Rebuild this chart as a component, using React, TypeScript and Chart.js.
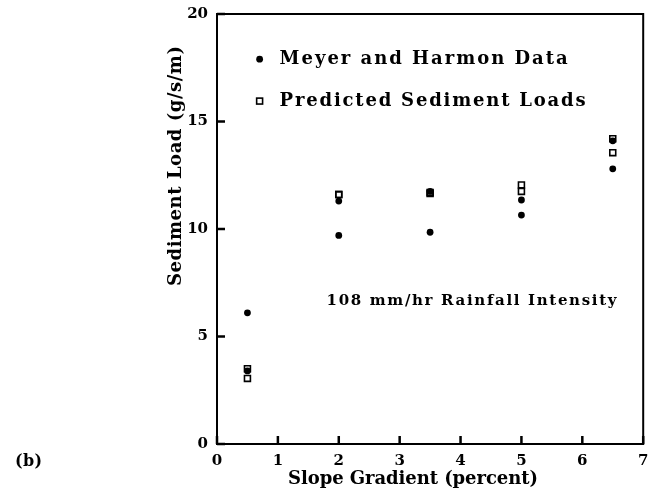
import React, { useEffect, useRef } from "react";
import { Chart, registerables } from "chart.js";

Chart.register(...registerables);

const slopes = [0.5, 2, 3.5, 5, 6.5];
const meyerHigh = [6.1, 11.3, 11.75, 11.35, 14.1];
const meyerLow = [3.4, 9.7, 9.85, 10.65, 12.8];
const predictedHigh = [3.5, 11.6, 11.65, 12.05, 14.2];
const predictedLow = [3.05, 11.6, 11.7, 11.75, 13.55];

const xTicks = [0, 1, 2, 3, 4, 5, 6, 7];
const yTicks = [0, 5, 10, 15, 20];

const legendLabels = ["Meyer and Harmon Data", "Predicted Sediment Loads"];
const xTitle = "Slope Gradient (percent)";
const yTitle = "Sediment Load (g/s/m)";
const annotation = "108 mm/hr Rainfall Intensity";
const panelLabel = "(b)";

const FONT = "'DejaVu Serif', 'Liberation Serif', serif";

function pts(xs: number[], ys: number[]) {
  return xs.map((x, i) => ({ x, y: ys[i] }));
}

function fitText(ctx: CanvasRenderingContext2D, text: string, width: number) {
  (ctx as any).letterSpacing = "0px";
  const w = ctx.measureText(text).width;
  const n = Math.max(text.length - 1, 1);
  (ctx as any).letterSpacing = ((width - w) / n).toFixed(2) + "px";
}

const tickPlugin = {
  id: "inwardTicks",
  afterDraw(chart: any) {
    const ctx = chart.ctx;
    const area = chart.chartArea;
    const xs = chart.scales.x;
    const ys = chart.scales.y;
    ctx.save();
    ctx.fillStyle = "#000000";
    for (let i = 0; i < xTicks.length; i++) {
      const px = xs.getPixelForValue(xTicks[i]);
      ctx.fillRect(px - 1.25, area.bottom - 8, 2.5, 8);
    }
    for (let i = 0; i < yTicks.length; i++) {
      const py = ys.getPixelForValue(yTicks[i]);
      ctx.fillRect(area.left, py - 1.25, 8, 2.5);
    }
    ctx.restore();
  },
};

const decorPlugin = {
  id: "decor",
  afterDraw(chart: any) {
    const ctx = chart.ctx;
    const area = chart.chartArea;
    const xs = chart.scales.x;
    const ys = chart.scales.y;
    ctx.save();
    ctx.fillStyle = "#000";
    ctx.strokeStyle = "#000";
    ctx.lineWidth = 2;
    ctx.strokeRect(area.left, area.top, area.right - area.left, area.bottom - area.top);

    const ds = chart.data.datasets;
    const legendX = xs.getPixelForValue(0.7);
    const legendY = [ys.getPixelForValue(17.9), ys.getPixelForValue(15.95)];
    ctx.textBaseline = "middle";
    ctx.textAlign = "left";
    ctx.font = `bold 18px ${FONT}`;
    [0, 2].forEach((di, i) => {
      const d = ds[di];
      if (d.pointStyle === "rect") {
        const s = d.pointRadius * Math.SQRT1_2;
        ctx.lineWidth = d.pointBorderWidth;
        ctx.strokeRect(legendX - s, legendY[i] - s, 2 * s, 2 * s);
      } else {
        ctx.beginPath();
        ctx.arc(legendX, legendY[i], d.pointRadius, 0, Math.PI * 2);
        ctx.fill();
      }
      ctx.save();
      fitText(ctx, legendLabels[i], i === 0 ? 288 : 306);
      ctx.fillText(legendLabels[i], legendX + 20, legendY[i]);
      ctx.restore();
    });

    ctx.save();
    ctx.font = `bold 15px ${FONT}`;
    fitText(ctx, annotation, 290);
    ctx.fillText(annotation, xs.getPixelForValue(1.8), ys.getPixelForValue(6.65));
    ctx.restore();

    ctx.save();
    ctx.font = `bold 18px ${FONT}`;
    fitText(ctx, xTitle, 250);
    ctx.fillText(xTitle, 288, 479);
    ctx.restore();

    ctx.save();
    ctx.translate(176, 286);
    ctx.rotate(-Math.PI / 2);
    ctx.font = `bold 18px ${FONT}`;
    fitText(ctx, yTitle, 240);
    ctx.fillText(yTitle, 0, 0);
    ctx.restore();

    ctx.save();
    ctx.font = `bold 16px ${FONT}`;
    fitText(ctx, panelLabel, 27);
    ctx.fillText(panelLabel, 15, 462);
    ctx.restore();

    ctx.restore();
  },
};

export default function App() {
  const ref = useRef<HTMLCanvasElement | null>(null);
  useEffect(() => {
    if (!ref.current) return;
    const dotStyle = {
      pointStyle: "circle",
      pointRadius: 3.4,
      pointBorderWidth: 0,
      backgroundColor: "#000",
      borderColor: "#000",
      showLine: false,
    };
    const sqStyle = {
      pointStyle: "rect",
      pointRadius: 4.2,
      pointBorderWidth: 1.6,
      backgroundColor: "rgba(0,0,0,0)",
      borderColor: "#000",
      showLine: false,
    };
    const chart = new Chart(ref.current, {
      type: "scatter",
      data: {
        datasets: [
          { label: legendLabels[0], data: pts(slopes, meyerHigh), ...dotStyle },
          { label: legendLabels[0], data: pts(slopes, meyerLow), ...dotStyle },
          { label: legendLabels[1], data: pts(slopes, predictedHigh), ...sqStyle },
          { label: legendLabels[1], data: pts(slopes, predictedLow), ...sqStyle },
        ] as any,
      },
      options: {
        animation: false,
        responsive: false,
        events: [],
        layout: { padding: { left: 0, right: 5, top: 14, bottom: 0 } },
        plugins: { legend: { display: false }, tooltip: { enabled: false } },
        scales: {
          x: {
            type: "linear",
            min: 0,
            max: 7,
            afterBuildTicks: (s: any) => {
              s.ticks = xTicks.map((v) => ({ value: v }));
            },
            afterFit: (s: any) => {
              s.height = 45;
              s.paddingLeft = 0;
              s.paddingRight = 0;
            },
            grid: { display: false, drawTicks: false },
            border: { display: false },
            ticks: {
              padding: 8,
              color: "#000",
              font: { family: FONT, weight: "bold", size: 15 },
              maxRotation: 0,
            },
          },
          y: {
            type: "linear",
            min: 0,
            max: 20,
            afterBuildTicks: (s: any) => {
              s.ticks = yTicks.map((v) => ({ value: v }));
            },
            afterFit: (s: any) => {
              s.width = 217;
              s.paddingTop = 0;
              s.paddingBottom = 0;
            },
            grid: { display: false, drawTicks: false },
            border: { display: false },
            ticks: {
              padding: 9,
              color: "#000",
              font: { family: FONT, weight: "bold", size: 15 },
            },
          },
        },
      } as any,
      plugins: [decorPlugin, tickPlugin],
    });
    return () => chart.destroy();
  }, []);
  return (
    <div style={{ position: "absolute", left: 0, top: 0, width: 649, height: 489, background: "#fff" }}>
      <canvas ref={ref} width={649} height={489} style={{ display: "block", width: 649, height: 489 }} />
    </div>
  );
}
